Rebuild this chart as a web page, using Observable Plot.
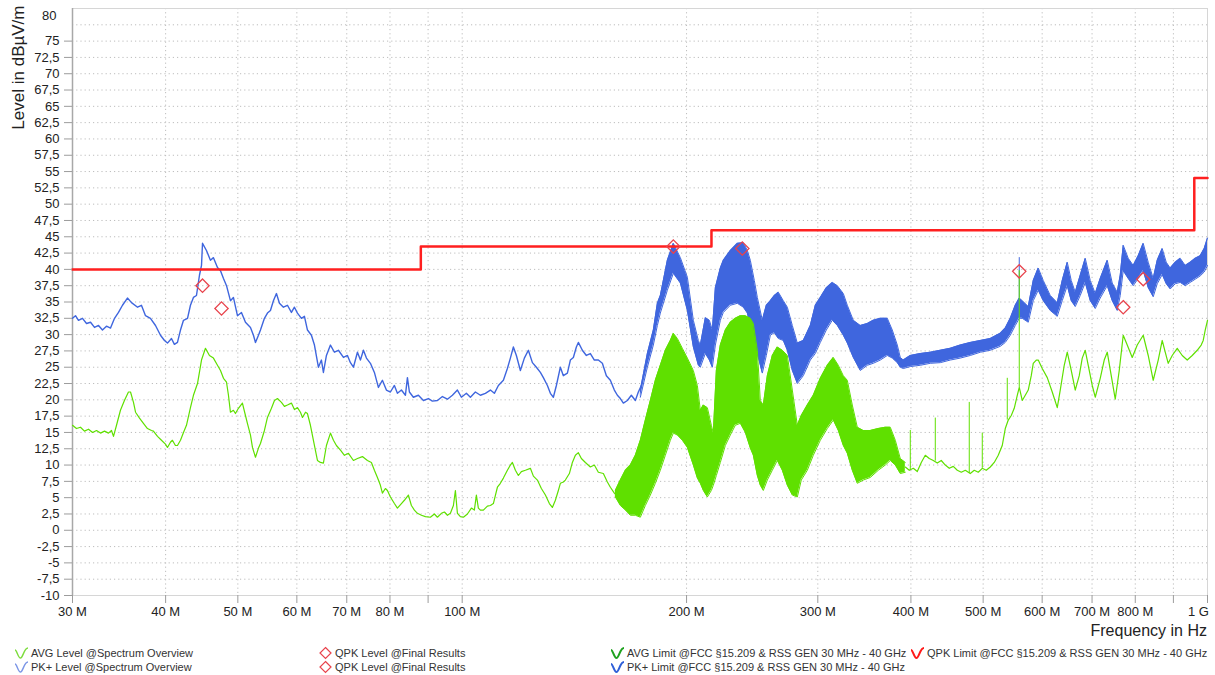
<!DOCTYPE html>
<html>
<head>
<meta charset="utf-8">
<script src="https://cdn.jsdelivr.net/npm/d3@7"></script>
<script src="https://cdn.jsdelivr.net/npm/@observablehq/plot@0.6"></script>
<style>
  body { margin: 0; background: #fff; font-family: "Liberation Sans", Arial, sans-serif; }
  #wrap { position: relative; width: 1215px; height: 675px; overflow: hidden; background: #fff; }
  #wrap svg.plot { position: absolute; left: 0; top: 0; }
  .leg { position: absolute; height: 14px; display: flex; align-items: center; font-size: 11px; color: #333; white-space: nowrap; }
  .leg svg { margin-right: 2px; }
  #xtitle { position: absolute; right: 8px; top: 622px; font-size: 16px; color: #222; }
</style>
</head>
<body>
<div id="wrap"></div>
<script>
// ---------- data (frequency in MHz, level in dBµV/m) ----------
const xDomain = [30, 1000];
const yDomain = [-10, 80];

const yGridTicks = [-10, -7.5, -5, -2.5, 0, 2.5, 5, 7.5, 10, 12.5, 15, 17.5, 20, 22.5, 25, 27.5, 30, 32.5, 35, 37.5, 40, 42.5, 45, 47.5, 50, 52.5, 55, 57.5, 60, 62.5, 65, 67.5, 70, 72.5, 75, 77.5];
const yTicks = [-10, -7.5, -5, -2.5, 0, 2.5, 5, 7.5, 10, 12.5, 15, 17.5, 20, 22.5, 25, 27.5, 30, 32.5, 35, 37.5, 40, 42.5, 45, 47.5, 50, 52.5, 55, 57.5, 60, 62.5, 65, 67.5, 70, 72.5, 75];
const yTopTick = [80];
const xTicks = [30, 40, 50, 60, 70, 80, 90, 100, 200, 300, 400, 500, 600, 700, 800, 900, 1000];
const xTickLabels = ["30 M", "40 M", "50 M", "60 M", "70 M", "80 M", "", "100 M", "200 M", "300 M", "400 M", "500 M", "600 M", "700 M", "800 M", "", ""];
const xLastTick = [1000];
const xLastLabel = "1 G";

// PK+ level trace (single line part)
const pkFreq = [30.0,30.28,30.56,30.94,31.33,31.72,32.11,32.51,32.91,33.32,
  33.74,34.16,34.58,35.01,35.55,36.00,36.68,37.12,37.59,38.17,
  38.77,39.37,39.86,40.23,40.73,41.10,41.49,41.88,42.27,42.80,
  43.19,43.59,44.00,44.41,44.69,44.83,45.38,45.94,46.37,46.95,
  47.39,47.83,48.28,48.87,49.32,49.94,50.56,51.19,51.99,52.47,
  52.80,53.29,53.62,54.28,54.79,55.30,55.81,56.33,56.86,57.56,
  58.28,59.00,59.55,60.11,60.86,61.42,62.00,62.76,63.35,64.13,
  64.73,65.13,65.74,66.56,67.39,68.22,69.29,70.15,70.80,71.46,
  72.35,73.02,73.70,74.39,75.31,76.24,77.19,78.15,79.12,80.11,
  81.10,81.86,82.88,83.91,84.43,84.95,86.00,87.34,88.71,90.09,
  91.20,92.63,94.07,95.54,97.02,98.53,99.75,101.3,102.56,104.16,
  105.78,107.43,109.10,110.45,111.83,113.57,114.98,116.05,117.13,118.22,
  119.69,121.17,122.68,124.22,125.76,127.32,128.50,130.11,131.31,132.53,
  133.77,135.43,136.69,138.40,139.68,140.98,142.29,143.17,144.95,146.75,
  148.58,150.42,152.29,154.19,156.11,158.05,160.01,161.51,163.01,164.53,
  166.58,168.64,170.74,172.32,173.93];
const pkLevel = [32.5,32.9,32.2,32.5,31.7,31.9,31.1,31.4,30.7,31.3,
  31.0,32.5,33.4,34.5,35.6,34.9,34.2,34.5,32.9,32.5,
  31.4,29.9,29.1,28.7,29.4,28.5,28.8,30.7,32.2,32.5,
  34.5,35.7,36.0,39.1,40.6,44.0,42.9,41.4,41.8,40.3,
  39.8,38.6,37.5,35.2,35.7,32.9,33.4,31.9,31.1,29.9,
  28.8,29.9,30.7,32.5,33.3,33.7,35.2,36.3,34.8,34.2,
  34.5,33.4,34.2,33.3,32.5,32.8,30.7,29.9,28.4,25.0,
  26.1,24.2,26.8,28.4,27.3,27.6,26.5,26.8,25.7,25.0,
  27.3,26.1,27.6,26.4,25.6,24.2,21.9,23.0,21.5,21.2,
  22.2,21.0,21.5,20.7,23.4,21.2,20.4,20.7,19.9,20.2,
  19.8,19.9,20.5,20.1,20.7,21.5,20.4,21.0,20.4,21.2,
  20.7,21.0,21.5,21.0,22.2,23.0,24.8,26.4,28.1,26.8,
  24.5,26.4,27.6,25.7,25.0,24.2,23.4,22.2,21.0,20.4,
  22.2,25.0,23.7,24.1,26.1,26.5,28.1,28.8,27.6,26.8,
  27.1,26.1,26.1,25.6,23.7,23.0,21.5,20.7,20.2,19.5,
  19.9,20.7,19.9,21.2,22.2];

// PK+ dense part: envelope of the trace
const pkBandFreq = [173.39,177.19,180.49,182.75,184.44,188.48,192.00,196.20,200.50,204.23,
  207.41,208.70,211.96,214.59,216.58,218.61,222.00,224.06,228.96,233.97,
  238.34,241.31,243.55,246.57,248.88,252.75,255.89,259.07,262.28,265.55,
  269.68,273.05,277.29,281.62,286.86,293.14,297.71,302.34,308.0,313.75,
  318.65,324.59,328.64,334.77,342.09,349.58,356.10,363.89,371.86,377.64,
  383.53,387.08,390.68,399.22,411.74,424.66,437.98,451.72,465.89,480.50,
  495.58,511.13,527.16,535.38,543.69,552.17,559.02,564.23,574.77,583.72,
  592.80,602.03,615.19,628.66,638.42,648.39,656.42,664.60,674.92,685.45,
  696.09,706.95,717.92,733.64,745.04,756.67,763.67,770.77,782.76,794.96,
  807.32,819.88,832.64,845.61,856.17,869.46,880.26,891.20,905.10,919.16,
  933.50,947.99,962.78,977.73,989.85,1000];
const pkBandHigh = [21.5,27.1,30.7,34.8,36.0,41.4,44.0,41.8,38.8,32.2,
  29.1,28.4,32.6,32.2,30.7,37.2,40.2,41.4,42.9,44.0,
  44.1,42.9,41.4,38.3,35.7,32.2,34.5,35.2,36.0,36.5,
  35.2,34.2,31.4,28.7,29.1,31.4,34.5,35.7,37.2,38.0,
  37.5,36.3,34.5,32.2,31.4,31.7,32.2,32.5,32.5,30.7,
  28.4,26.5,26.1,26.8,27.1,27.3,27.6,27.9,28.4,28.8,
  29.1,29.4,30.2,31.0,32.5,34.5,35.6,35.2,34.3,38.3,
  40.2,38.3,36.0,34.9,38.3,41.1,38.3,36.5,39.1,41.7,
  38.3,36.3,38.6,41.4,37.9,36.5,39.1,43.7,41.7,40.6,
  42.1,44.0,41.1,38.6,41.4,43.2,41.1,40.2,41.1,41.7,
  40.6,41.1,41.7,42.1,43.2,44.8];
const pkBandLow = [20.4,25.0,28.4,31.4,33.3,36.8,39.4,37.9,33.7,28.1,
  25.3,25.0,27.1,26.1,25.0,28.4,32.2,33.4,34.5,34.8,
  34.2,33.3,31.4,29.1,27.1,24.1,26.8,29.9,30.3,29.4,
  29.1,27.6,24.5,22.5,23.7,26.1,27.1,28.8,30.7,32.2,
  31.4,29.9,28.7,26.5,24.5,25.3,25.6,26.1,26.8,26.4,
  25.7,25.0,24.8,25.1,25.3,25.6,25.7,26.1,26.4,26.8,
  27.3,27.6,28.2,28.8,29.9,31.4,32.5,32.5,31.9,35.2,
  36.8,35.2,33.7,32.8,35.2,37.5,35.2,34.3,36.0,38.0,
  35.2,34.0,35.6,37.5,35.2,33.7,36.0,39.8,38.6,37.5,
  38.6,39.8,37.2,35.8,37.8,39.2,37.8,37.0,37.8,38.0,
  37.5,38.0,38.5,39.0,39.6,40.6];
const pkSpikeFreq = [559.02];
const pkSpikeBase = [35.6];
const pkSpikeTop = [41.8];

// AVG level trace
const avgLeftFreq = [30.0,30.37,30.75,31.13,31.52,31.92,32.31,32.71,33.12,33.53,
  33.84,34.05,34.37,34.79,35.22,35.66,35.89,36.22,36.45,36.90,
  37.35,37.82,38.29,38.52,39.01,39.49,39.98,40.23,40.60,40.85,
  41.23,41.49,41.88,42.27,42.66,43.19,43.59,44.14,44.69,45.24,
  45.80,46.37,46.95,47.39,47.83,48.28,48.57,48.87,49.32,49.63,
  50.09,50.71,51.19,51.50,51.99,52.31,52.80,53.29,53.62,54.28,
  54.79,55.47,55.99,56.51,57.21,57.74,58.28,59.00,59.55,60.11,
  60.67,61.05,61.62,62.00,62.57,63.15,63.94,64.53,65.13,65.74,
  66.56,67.18,67.80,68.65,69.50,70.37,71.46,72.35,73.47,74.62,
  75.54,76.24,76.96,77.67,78.15,78.88,79.37,80.11,81.10,81.86,
  82.88,83.64,84.69,85.47,86.27,87.08,88.16,89.26,90.64,91.76,
  92.63,93.78,94.65,95.54,96.42,97.32,97.92,98.53,99.44,100.37,
  101.62,102.88,103.83,104.48,105.12,105.78,106.76,108.10,109.10,110.11,
  111.49,112.52,113.57,114.98,116.05,116.77,117.86,118.95,120.06,121.56,
  123.45,124.60,126.15,127.71,129.31,130.91,132.12,133.36,134.59,135.43,
  136.69,137.54,139.25,140.55,141.86,143.17,144.51,146.31,148.58,150.42,
  152.29,154.67,156.60,158.05,160.01,162.00];
const avgLeftLevel = [16.1,15.6,15.8,15.2,15.5,15.0,15.3,14.9,15.2,14.9,
  15.3,14.4,16.1,18.4,19.9,21.2,21.2,19.6,18.1,17.2,
  16.4,15.6,15.3,15.2,14.4,13.8,13.2,12.7,13.5,13.8,
  13.0,13.0,13.8,15.0,16.1,18.8,20.7,22.5,26.1,27.9,
  26.8,26.4,25.3,24.5,23.3,22.7,20.7,18.1,18.4,17.9,
  18.7,19.5,17.6,16.4,14.6,12.7,11.2,12.6,13.3,15.3,
  17.3,18.7,19.9,20.2,19.6,19.0,19.2,19.5,18.5,18.8,
  18.1,17.3,18.1,17.9,16.1,13.8,10.7,10.4,10.3,13.0,
  14.9,13.8,13.0,12.3,11.5,11.8,10.7,11.0,11.3,10.7,
  10.4,9.2,8.1,6.9,5.7,6.4,6.1,5.1,4.1,3.4,
  4.1,4.6,5.4,3.8,3.1,2.6,2.3,2.1,2.0,2.5,
  2.0,2.6,2.8,2.3,2.6,3.8,6.1,2.6,2.1,2.0,
  2.5,3.4,3.1,5.4,3.4,3.1,3.1,3.7,3.8,4.1,
  6.6,7.2,8.0,9.2,10.0,10.4,9.2,8.4,9.0,9.2,
  9.5,8.3,7.7,6.4,5.4,4.1,3.5,4.6,6.1,7.2,
  7.4,7.7,8.7,10.4,11.5,11.9,11.0,10.4,9.7,10.0,
  8.9,8.7,7.4,6.6,5.7,5.1];

// AVG dense part: envelope of the trace
const avgBandFreq = [160.52,163.01,165.55,168.12,170.74,173.39,176.09,178.83,181.62,184.44,
  187.32,190.23,192.00,194.40,197.42,200.50,204.23,206.78,208.70,210.64,
  213.27,215.92,217.25,219.28,222.00,225.46,228.96,232.53,236.14,239.82,
  243.55,245.82,248.88,251.19,253.53,256.69,260.68,264.74,268.86,273.05,
  277.29,281.62,285.10,290.44,295.87,302.34,308.96,314.72,319.62,324.59,
  328.64,333.75,338.95,345.27,352.82,361.64,369.57,375.31,381.16,387.08,
  393.12];
const avgBandHigh = [6.1,7.7,9.2,10.0,11.5,13.8,16.9,19.9,23.0,25.3,
  27.6,29.1,30.2,29.4,27.9,26.4,24.5,22.2,18.4,19.2,
  18.8,16.1,14.9,24.5,28.4,30.7,31.9,32.5,32.9,32.9,
  32.5,31.7,27.6,19.9,19.2,23.7,26.8,28.1,27.6,26.8,
  21.5,16.1,17.6,19.2,20.7,23.3,25.3,26.5,25.3,23.7,
  23.0,19.2,15.8,15.3,15.3,15.6,15.8,15.8,13.8,11.0,
  10.4];
const avgBandLow = [5.1,3.8,3.1,2.3,2.3,2.0,3.8,5.4,7.2,9.2,
  11.5,13.8,14.9,14.6,13.8,12.7,10.0,8.0,7.2,6.1,
  5.1,6.1,6.9,8.4,10.4,13.0,14.6,16.1,16.4,15.0,
  12.6,11.5,8.4,6.9,6.1,7.7,9.2,10.7,9.2,6.9,
  5.4,5.1,7.7,9.2,11.5,13.8,15.6,16.9,15.3,13.0,
  11.8,9.2,7.2,7.7,8.1,9.2,10.0,10.7,10.0,8.7,
  8.9];

const avgRightFreq = [393.12,398.0,402.93,407.96,413.02,418.16,423.35,428.61,433.96,439.34,
  444.81,450.33,455.92,461.61,467.33,473.16,480.50,486.46,492.51,498.65,
  504.85,511.13,517.47,523.91,530.43,535.38,540.34,545.38,550.43,555.60,
  559.02,564.23,569.50,574.77,580.13,583.72,589.16,592.80,600.18,609.54,
  619.00,628.66,634.49,642.36,648.39,656.42,664.60,672.84,679.10,685.45,
  693.95,700.41,706.95,717.92,726.82,733.64,742.75,751.99,761.33,770.77,
  780.39,792.51,804.88,819.88,832.64,845.61,858.77,869.46,877.58,885.70,
  896.73,910.72,924.86,939.29,953.87,968.75,980.76,986.82,992.98,1000];
const avgRightLevel = [9.7,9.2,9.5,9.0,10.4,11.5,11.0,10.7,10.3,10.7,
  10.0,9.5,9.8,9.2,8.9,9.2,8.7,9.2,8.9,9.5,
  9.2,9.7,10.4,11.5,13.0,15.6,16.9,17.6,18.7,20.7,
  21.9,19.9,20.7,21.5,23.7,25.6,26.1,26.1,24.8,23.4,
  21.2,18.8,21.5,25.3,27.3,24.5,21.5,23.7,26.4,27.6,
  24.5,22.2,20.4,23.3,26.1,27.3,23.7,20.1,24.5,29.9,
  28.4,26.5,28.4,29.9,26.8,23.0,26.1,29.1,27.3,25.6,
  26.8,27.9,26.8,26.1,26.8,27.6,28.4,29.1,30.7,32.2];
const avgSpikeFreq = [399.22, 431.28, 479.0, 498.65, 538.7, 559.02];
const avgSpikeBase = [9.2, 10.6, 8.7, 9.5, 16.9, 21.9];
const avgSpikeTop = [15.3, 17.2, 19.6, 14.9, 23.3, 39.8];

// QPK final results
const qpkFreq = [44.83, 47.54, 192.0, 237.6, 559.0, 770.8, 819.9];
const qpkLevel = [37.5, 34.0, 43.5, 43.2, 39.7, 34.2, 38.5];

// QPK limit FCC 15.209
const limitFreq = [30, 88, 88, 216, 216, 960, 960, 1000];
const limitLevel = [40, 40, 43.5, 43.5, 46, 46, 54, 54];

const yTitle = "Level in dBµV/m";
const xTitle = "Frequency in Hz";
const legendItems = [
  {kind: "wave", color: "#7cdc3c", text: "AVG Level @Spectrum Overview", col: 0, row: 0},
  {kind: "wave", color: "#7b95e6", text: "PK+ Level @Spectrum Overview", col: 0, row: 1},
  {kind: "diamond", color: "#e8434c", text: "QPK Level @Final Results", col: 1, row: 0},
  {kind: "diamond", color: "#e8434c", text: "QPK Level @Final Results", col: 1, row: 1},
  {kind: "wave", color: "#1fa21f", text: "AVG Limit @FCC §15.209 & RSS GEN 30 MHz - 40 GHz", col: 2, row: 0},
  {kind: "wave", color: "#2f5fd8", text: "PK+ Limit @FCC §15.209 & RSS GEN 30 MHz - 40 GHz", col: 2, row: 1},
  {kind: "wave", color: "#ff1a1a", text: "QPK Limit @FCC §15.209 & RSS GEN 30 MHz - 40 GHz", col: 3, row: 0}
];

// ---------- tables ----------
const pk = pkFreq.map((f, i) => ({f, v: pkLevel[i]}));
const pkBand = pkBandFreq.map((f, i) => ({f, hi: pkBandHigh[i], lo: pkBandLow[i]}));
const pkSpikes = pkSpikeFreq.map((f, i) => ({f, lo: pkSpikeBase[i], hi: pkSpikeTop[i]}));
const avgLeft = avgLeftFreq.map((f, i) => ({f, v: avgLeftLevel[i]}));
const avgRight = avgRightFreq.map((f, i) => ({f, v: avgRightLevel[i]}));
const avgBand = avgBandFreq.map((f, i) => ({f, hi: avgBandHigh[i], lo: avgBandLow[i]}));
const avgSpikes = avgSpikeFreq.map((f, i) => ({f, lo: avgSpikeBase[i], hi: avgSpikeTop[i]}));
const qpk = qpkFreq.map((f, i) => ({f, v: qpkLevel[i]}));
const limit = limitFreq.map((f, i) => ({f, v: limitLevel[i]}));
const xLabelOf = new Map(xTicks.map((t, i) => [t, xTickLabels[i]]));

const FONT = '"Liberation Sans", Arial, sans-serif';
const BLUE = "#3f66de";
const GREEN = "#5fe000";
const RED = "#ff1f1f";
const GRID = {stroke: "#bdbdbd", strokeOpacity: 1, strokeDasharray: "1.2,3"};

const chart = Plot.plot({
  width: 1215,
  height: 622,
  marginLeft: 72,
  marginRight: 8,
  marginTop: 8,
  marginBottom: 27,
  x: {type: "log", domain: xDomain},
  y: {domain: yDomain},
  style: {fontFamily: FONT, fontSize: "13px", color: "#222", background: "#fff", overflow: "visible"},
  marks: [
    Plot.gridY(yGridTicks, GRID),
    Plot.gridX(xTicks, GRID),
    Plot.frame({stroke: "#d6d6d6"}),
    Plot.ruleX([xDomain[0]], {stroke: "#a8a8a8", strokeWidth: 1.5}),
    Plot.areaY(pkBand, {x: "f", y1: "lo", y2: "hi", fill: BLUE}),
    Plot.line(pkBand, {x: "f", y: "hi", stroke: BLUE, strokeWidth: 1}),
    Plot.line(pkBand, {x: "f", y: "lo", stroke: BLUE, strokeWidth: 1}),
    Plot.line(pk, {x: "f", y: "v", stroke: BLUE, strokeWidth: 1.4}),
    Plot.ruleX(pkSpikes, {x: "f", y1: "lo", y2: "hi", stroke: BLUE, strokeWidth: 1}),
    Plot.areaY(avgBand, {x: "f", y1: "lo", y2: "hi", fill: GREEN}),
    Plot.line(avgBand, {x: "f", y: "hi", stroke: GREEN, strokeWidth: 1}),
    Plot.line(avgBand, {x: "f", y: "lo", stroke: GREEN, strokeWidth: 1}),
    Plot.line(avgLeft, {x: "f", y: "v", stroke: GREEN, strokeWidth: 1.2}),
    Plot.line(avgRight, {x: "f", y: "v", stroke: GREEN, strokeWidth: 1.2}),
    Plot.ruleX(avgSpikes, {x: "f", y1: "lo", y2: "hi", stroke: GREEN, strokeWidth: 1}),
    Plot.line(limit, {x: "f", y: "v", stroke: RED, strokeWidth: 2.5}),
    Plot.dot(qpk, {x: "f", y: "v", symbol: "diamond2", r: 6, stroke: "#e8434c", strokeWidth: 1.3, fill: "none"}),
    Plot.axisY(yTicks, {tickSize: 8, tickPadding: 5, tickFormat: d => String(d).replace(".", ","), stroke: "#9c9c9c", fill: "#222", label: null}),
    Plot.axisY(yTopTick, {tickSize: 0, tickPadding: 16, dy: 7, tickFormat: d => String(d), fill: "#222", label: null}),
    Plot.axisX(xTicks, {tickSize: 8, tickPadding: 3, tickFormat: d => xLabelOf.get(d), stroke: "#9c9c9c", fill: "#222", label: null}),
    Plot.axisX(xLastTick, {tickSize: 0, tickPadding: 11, dx: -9, tickFormat: () => xLastLabel, fill: "#222", label: null}),
    Plot.text([yTitle], {text: d => d, frameAnchor: "top-left", rotate: -90, textAnchor: "end", dx: -61, dy: -3, fontSize: 17, fill: "#222"})
  ]
});

const wrap = document.getElementById("wrap");
wrap.appendChild(chart);

const xt = document.createElement("div");
xt.id = "xtitle";
xt.textContent = xTitle;
wrap.appendChild(xt);

const colLeft = [14, 318, 610, 910];
const rowTop = [646, 660];
for (const it of legendItems) {
  const d = document.createElement("div");
  d.className = "leg";
  d.style.left = colLeft[it.col] + "px";
  d.style.top = rowTop[it.row] + "px";
  const icon = it.kind === "wave"
    ? `<svg width="15" height="14" viewBox="0 0 15 14"><path d="M1,4 C3,4 4,12 6.5,12 C9,12 10,2 14,2" fill="none" stroke="${it.color}" stroke-width="${it.col >= 2 ? 2 : 1.4}"/></svg>`
    : `<svg width="15" height="14" viewBox="0 0 15 14"><path d="M7.5,1.5 L13,7 L7.5,12.5 L2,7 Z" fill="none" stroke="${it.color}" stroke-width="1.2"/></svg>`;
  d.innerHTML = icon + `<span>${it.text.replace(/&/g, "&amp;")}</span>`;
  wrap.appendChild(d);
}
</script>
</body>
</html>
